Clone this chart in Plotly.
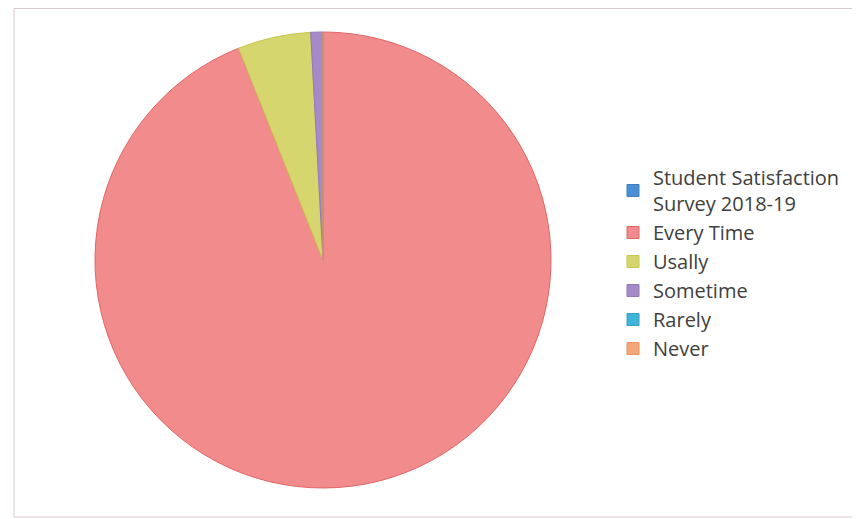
import plotly.graph_objects as go

labels = ["Student Satisfaction<br>Survey 2018-19", "Every Time", "Usally", "Sometime", "Rarely", "Never"]
values = [0, 109, 6, 1, 0, 0]
colors = ["#4a8fd4", "#f28b8b", "#d6d66e", "#a48bc8", "#3fb6d8", "#f4a878"]
edge_colors = ["#3f7fc0", "#e46464", "#c8c850", "#9478b8", "#30a0c4", "#e89060"]

W, H = 860, 519
OFF = 8  # page body margin offset
cx, cy, r = 323 - OFF, 260 - OFF, 228

fig = go.Figure(go.Pie(
    labels=labels,
    values=values,
    sort=False,
    direction="clockwise",
    rotation=0,
    textinfo="none",
    hoverinfo="label+value+percent",
    marker=dict(colors=colors, line=dict(color=edge_colors, width=1)),
    domain=dict(x=[(cx - r) / W, (cx + r) / W], y=[1 - (cy + r) / H, 1 - (cy - r) / H]),
))

fig.update_layout(
    width=W, height=H,
    margin=dict(l=0, r=0, t=0, b=0),
    paper_bgcolor="white",
    showlegend=True,
    legend=dict(
        x=(613 - OFF) / W, xanchor="left",
        y=1 - (158 - OFF) / H, yanchor="top",
        font=dict(family="Open Sans, sans-serif", size=20, color="#404040"),
        bgcolor="rgba(0,0,0,0)",
    ),
    shapes=[dict(
        type="rect", xref="paper", yref="paper",
        x0=(14 - OFF) / W, x1=1.05, y0=1 - (517 - OFF) / H, y1=1 - 0.5 / H,
        line=dict(color="#d9caca", width=1),
    )],
)

fig.write_html("out.html")
